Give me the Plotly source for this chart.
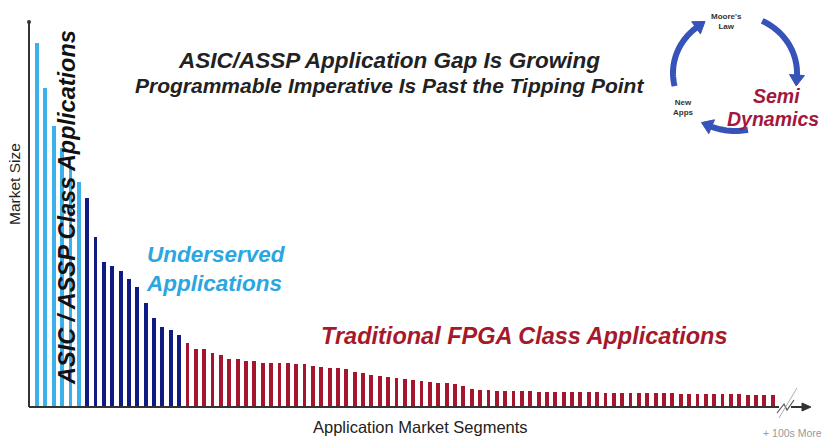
import numpy as np
import plotly.graph_objects as go

# ---------------- data (bar heights, arbitrary market-size units) ----------------
asic_sizes = [364, 319, 281, 259, 241, 225]
underserved_sizes = [209, 170, 145, 141, 136, 128, 120, 104, 89, 80, 77, 72]
fpga_sizes = [64, 58, 58, 54, 52, 48, 48, 46, 46, 44, 44, 44, 44, 43, 43, 41, 40, 39,
              39, 38, 35, 34, 32, 31, 30, 29, 28, 27, 26, 25, 24, 24, 23, 21, 18,
              17, 17, 16, 16, 16, 16, 16, 15, 15, 15, 15, 15, 15, 15, 15, 14, 14, 14,
              14, 14, 14, 14, 14, 14, 13, 13, 13, 13, 13, 13, 13, 13, 12, 12, 12, 12]

title_lines = ["ASIC/ASSP Application Gap Is Growing",
               "Programmable Imperative Is Past the Tipping Point"]
group_labels = ["ASIC / ASSP Class Applications", "Underserved<br>Applications",
                "Traditional FPGA Class Applications"]
x_title = "Application Market Segments"
y_title = "Market Size"
more_label = "+ 100s More"
cycle_labels = ["Moore's<br>Law", "New<br>Apps"]
brand_lines = ["Semi", "Dynamics"]

# ---------------- layout helpers ----------------
W, H = 825, 445
FONT = "Liberation Sans, Arial, sans-serif"
LIGHT_BLUE = "#3cb0ea"
NAVY = "#0f1a82"
RED = "#a3162d"
ARC_BLUE = "#3553b8"


def P(x, y):
    return x / W, 1 - y / H


n1, n2, n3 = len(asic_sizes), len(underserved_sizes), len(fpga_sizes)
idx = np.arange(n1 + n2 + n3)
step = 8.36
x0px = 37
base_px = 407

fig = go.Figure()
for xs, ys, col, name in [
    (idx[:n1], asic_sizes, LIGHT_BLUE, "ASIC/ASSP"),
    (idx[n1:n1 + n2], underserved_sizes, NAVY, "Underserved"),
    (idx[n1 + n2:], fpga_sizes, RED, "Traditional FPGA"),
]:
    fig.add_trace(go.Bar(x=xs, y=ys, marker=dict(color=col, line=dict(width=0)),
                         width=0.46, name=name, showlegend=False, hoverinfo="skip"))

shapes = []
annotations = []

# axes drawn as lines
ax_col = "#333333"
xa, ya = P(29, 22)
xb, yb = P(29, base_px)
shapes.append(dict(type="line", xref="paper", yref="paper", x0=xa, y0=ya, x1=xb, y1=yb,
                   line=dict(color=ax_col, width=2)))
xa, ya = P(29, base_px)
xb, yb = P(779, base_px)
shapes.append(dict(type="line", xref="paper", yref="paper", x0=xa, y0=ya, x1=xb, y1=yb,
                   line=dict(color=ax_col, width=2)))
# small dot on top of y axis
cx, cy = P(29, 22)
shapes.append(dict(type="circle", xref="paper", yref="paper",
                   x0=cx - 2 / W, x1=cx + 2 / W, y0=cy - 2 / H, y1=cy + 2 / H,
                   fillcolor=ax_col, line=dict(width=0)))


def path(points):
    s = ""
    for i, (x, y) in enumerate(points):
        px, py = P(x, y)
        s += ("M" if i == 0 else "L") + f"{px:.5f},{py:.5f} "
    return s


# axis break mark
shapes.append(dict(type="path", xref="paper", yref="paper",
                   path=path([(777, 413), (784, 404), (787, 410), (794, 400)]),
                   line=dict(color="#555555", width=1.2)))
shapes.append(dict(type="path", xref="paper", yref="paper",
                   path=path([(779, 418), (797, 388)]),
                   line=dict(color="#999999", width=0.8)))
# continuing axis with arrow
xa, ya = P(791, base_px)
xb, yb = P(804, base_px)
shapes.append(dict(type="line", xref="paper", yref="paper", x0=xa, y0=ya, x1=xb, y1=yb,
                   line=dict(color=ax_col, width=2)))
shapes.append(dict(type="path", xref="paper", yref="paper",
                   path=path([(811, base_px), (802, base_px - 4), (802, base_px + 4)]) + "Z",
                   fillcolor=ax_col, line=dict(color=ax_col, width=1)))

# cycle diagram arcs
ccx, ccy, rx, ry = 735, 73, 62, 58


def ell(t):
    r = np.radians(t)
    return ccx + rx * np.cos(r), ccy - ry * np.sin(r)


for t0, t1 in [(193, 127), (64, -4), (282, 246)]:
    ts = np.linspace(t0, t1, 30)
    pts = [ell(t) for t in ts]
    shapes.append(dict(type="path", xref="paper", yref="paper", path=path(pts),
                       line=dict(color=ARC_BLUE, width=6)))
    ex, ey = pts[-1]
    qx, qy = ell(t1 + (0.5 if t1 < t0 else -0.5))
    dx, dy = ex - qx, ey - qy
    nrm = np.hypot(dx, dy)
    dx, dy = dx / nrm, dy / nrm
    tip = (ex + dx * 9, ey + dy * 9)
    c1 = (ex - dx * 2 - dy * 7.5, ey - dy * 2 + dx * 7.5)
    c2 = (ex - dx * 2 + dy * 7.5, ey - dy * 2 - dx * 7.5)
    shapes.append(dict(type="path", xref="paper", yref="paper",
                       path=path([tip, c1, c2]) + "Z",
                       fillcolor=ARC_BLUE, line=dict(color=ARC_BLUE, width=1)))


def ann(text, x, y, size, color, angle=0, xanchor="center", bold=True, italic=True):
    px, py = P(x, y)
    t = text
    if italic:
        t = f"<i>{t}</i>"
    if bold:
        t = f"<b>{t}</b>"
    annotations.append(dict(text=t, x=px, y=py, xref="paper", yref="paper",
                            xanchor=xanchor, yanchor="middle", showarrow=False,
                            textangle=angle,
                            font=dict(family=FONT, size=size, color=color)))


ann(title_lines[0], 389, 61, 22.5, "#222222")
ann(title_lines[1], 389, 85, 21, "#222222")
ann(group_labels[0], 67, 208, 23.5, "#111111", angle=-90)
annotations.append(dict(text=f"<b><i>{group_labels[1]}</i></b>", x=P(144, 0)[0],
                        y=P(0, 269)[1], xref="paper", yref="paper", xanchor="left",
                        yanchor="middle", align="left", showarrow=False,
                        font=dict(family=FONT, size=22.5, color="#2aa6e0")))
ann(group_labels[2], 524, 336, 23.5, "#a5192b")
ann(y_title, 14, 184, 15.5, "#222222", angle=-90, bold=False, italic=False)
ann(x_title, 421, 427, 16.5, "#222222", bold=False, italic=False)
ann(more_label, 792, 433, 10.5, "#9a9a9a", bold=False, italic=False)
ann(cycle_labels[0], 726, 22, 8, "#333333", italic=False)
ann(cycle_labels[1], 683, 108, 8, "#333333", italic=False)
ann(brand_lines[0], 776, 96, 19.5, "#a3173c")
ann(brand_lines[1], 773, 119, 19.5, "#a3173c")

fig.update_layout(
    width=W, height=H,
    margin=dict(l=0, r=0, t=0, b=0),
    paper_bgcolor="white", plot_bgcolor="white",
    bargap=0,
    xaxis=dict(range=[-x0px / step, (W - x0px) / step], visible=False, fixedrange=True),
    yaxis=dict(range=[-(H - base_px), base_px], visible=False, fixedrange=True),
    shapes=shapes, annotations=annotations,
    font=dict(family=FONT),
)

fig.write_html("out.html", config=dict(displayModeBar=False),
               post_script="document.body.style.margin='0';document.body.style.padding='0';")
